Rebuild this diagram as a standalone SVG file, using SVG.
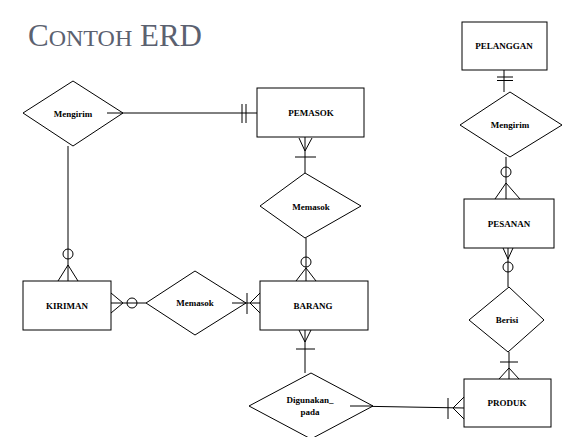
<svg xmlns="http://www.w3.org/2000/svg" width="571" height="437" viewBox="0 0 571 437">
<style>
.shape{fill:#fff;stroke:#000;stroke-width:1}
.ln{fill:none;stroke:#000;stroke-width:1}
.lbl{font-family:"Liberation Serif",serif;font-size:9px;font-weight:bold;text-anchor:middle;dominant-baseline:central;fill:#000}
.title{font-family:"Liberation Serif",serif;fill:#5b6170}
</style>
<rect width="571" height="437" fill="#fff"/>
<text class="title" x="28" y="46" font-size="31">C<tspan font-size="24">ONTOH</tspan> ERD</text>

<g id="connectors">
<!-- Mengirim(left) - PEMASOK -->
<path class="ln" d="M107 113H257 M242 104V123 M246 104V123"/>
<!-- Mengirim(left) - KIRIMAN -->
<path class="ln" d="M68 146V281 M58 281L68 265L78 281"/>
<circle class="ln" cx="68" cy="254" r="5" fill="#fff"/>
<!-- KIRIMAN - Memasok -->
<path class="ln" d="M111 303H146 M111 293L123 303L111 313"/>
<circle class="ln" cx="132" cy="303" r="5" fill="#fff"/>
<!-- Memasok - BARANG -->
<path class="ln" d="M232 303H260 M247 293V314 M260 293L250 303L260 313"/>
<!-- PEMASOK - Memasok(top) -->
<path class="ln" d="M305 137V173 M299 138L305 151L312 138 M295 157H316"/>
<!-- Memasok(top) - BARANG -->
<path class="ln" d="M306 238V281 M296 281L306 268L316 281"/>
<circle class="ln" cx="306" cy="262" r="5" fill="#fff"/>
<!-- BARANG - Digunakan_pada -->
<path class="ln" d="M305 330V373 M299 330L305 342L311 330 M296 349H315"/>
<!-- Digunakan_pada - PRODUK -->
<path class="ln" d="M350 406L464 408 M448 398V419 M464 397L453 408L464 419"/>
<!-- PELANGGAN - Mengirim(right) -->
<path class="ln" d="M504 70V92 M497 77H513 M497 80.5H513"/>
<!-- Mengirim(right) - PESANAN -->
<path class="ln" d="M506 157V199 M495 199L506 183L520 199"/>
<circle class="ln" cx="506" cy="172" r="5" fill="#fff"/>
<!-- PESANAN - Berisi -->
<path class="ln" d="M508 248V287 M503 248L508 259L513 248"/>
<circle class="ln" cx="508" cy="267" r="5" fill="#fff"/>
<!-- Berisi - PRODUK -->
<path class="ln" d="M509 352V379 M500 362H518 M499 379L509 368L519 379"/>
</g>

<g id="n-mengirim1"><polygon class="shape" points="23,113 73,81 123,113 73,146" fill="none"/><path class="ln" d="M107 113H123"/><text class="lbl" x="73" y="114">Mengirim</text></g>
<g id="n-pemasok"><rect class="shape" x="257" y="88" width="107" height="49"/><text class="lbl" x="311" y="113">PEMASOK</text></g>
<g id="n-memasok1"><polygon class="shape" points="260,206 305,173 361,206 305,238"/><text class="lbl" x="311" y="207">Memasok</text></g>
<g id="n-kiriman"><rect class="shape" x="23" y="281" width="88" height="49"/><text class="lbl" x="67" y="306">KIRIMAN</text></g>
<g id="n-memasok2"><polygon class="shape" points="146,303 195,271 246,303 195,335"/><path class="ln" d="M232 303H246"/><text class="lbl" x="195" y="303">Memasok</text></g>
<g id="n-barang"><rect class="shape" x="260" y="281" width="108" height="49"/><text class="lbl" x="313" y="306">BARANG</text></g>
<g id="n-digunakan"><polygon class="shape" points="249,406 311,373 373,406 311,439"/><path class="ln" d="M350 406H373"/><text class="lbl" x="310" y="400">Digunakan_</text><text class="lbl" x="310" y="412">pada</text></g>
<g id="n-pelanggan"><rect class="shape" x="462" y="22" width="85" height="48"/><text class="lbl" x="504" y="46">PELANGGAN</text></g>
<g id="n-mengirim2"><polygon class="shape" points="460,125 510,92 562,125 510,157"/><text class="lbl" x="510" y="125">Mengirim</text></g>
<g id="n-pesanan"><rect class="shape" x="464" y="199" width="90" height="49"/><text class="lbl" x="509" y="224">PESANAN</text></g>
<g id="n-berisi"><polygon class="shape" points="469,320 509,287 544,320 508,352"/><text class="lbl" x="507" y="320">Berisi</text></g>
<g id="n-produk"><rect class="shape" x="464" y="379" width="87" height="48"/><text class="lbl" x="507" y="403">PRODUK</text></g>
</svg>
